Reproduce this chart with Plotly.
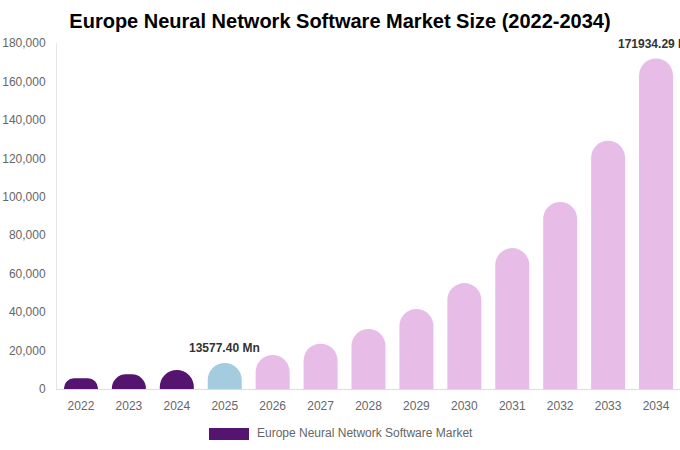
import plotly.graph_objects as go

years = ["2022", "2023", "2024", "2025", "2026", "2027", "2028", "2029", "2030", "2031", "2032", "2033", "2034"]
values = [5600, 7650, 9900, 13577.40, 17700, 23600, 31200, 41600, 55100, 73300, 97300, 129200, 171934.29]
colors = ["#55146f", "#55146f", "#55146f", "#a5cbdf"] + ["#e7bde8"] * 9
label_years = ["2025", "2034"]
label_texts = ["13577.40 Mn", "171934.29 Mn"]
y_ticks = [0, 20000, 40000, 60000, 80000, 100000, 120000, 140000, 160000, 180000]
series_name = "Europe Neural Network Software Market"
title = "Europe Neural Network Software Market Size (2022-2034)"

W, H = 680, 450
ML, MR, MT, MB = 57, 0, 43, 61

fig = go.Figure()
fig.add_trace(go.Bar(
    x=years, y=values, name=series_name,
    marker=dict(color=colors, cornerradius="50%", line=dict(width=0)),
    showlegend=False, hoverinfo="skip",
))

for yr, txt in zip(label_years, label_texts):
    i = years.index(yr)
    fig.add_annotation(x=i, y=values[i], text=f"<b>{txt}</b>", showarrow=False,
                       yanchor="bottom", yshift=6, xanchor="center",
                       font=dict(size=12, color="#333333", family="Liberation Sans, Arial, sans-serif"))

# legend drawn as swatch + label (paper coordinates)
pw, ph = W - ML - MR, H - MT - MB
def px(x):
    return (x - ML) / pw
def py(y):
    return (H - MB - y) / ph

fig.add_shape(type="rect", xref="paper", yref="paper",
              x0=px(209), x1=px(249), y0=py(440), y1=py(428),
              fillcolor=colors[0], line=dict(width=0))
fig.add_annotation(xref="paper", yref="paper", x=px(255), y=py(433), text=series_name,
                   showarrow=False, xanchor="left", yanchor="middle",
                   font=dict(size=12, color="#666666"))

fig.update_layout(
    width=W, height=H,
    margin=dict(l=ML, r=MR, t=MT, b=MB, autoexpand=False),
    paper_bgcolor="white", plot_bgcolor="white",
    font=dict(family="Liberation Sans, Arial, sans-serif", color="#666666", size=12),
    title=dict(text=f"<b>{title}</b>", x=0.5, xanchor="center", y=1 - 21 / H, yanchor="middle",
               font=dict(size=20, color="#000000")),
    bargap=0.29,
    showlegend=False,
    xaxis=dict(type="category", range=[-0.5, len(years) - 0.5], showline=True,
               linecolor="#dddddd", linewidth=1, ticks="",
               showgrid=False, tickfont=dict(size=12, color="#666666"), automargin=False,
               ticklabelstandoff=6),
    yaxis=dict(range=[0, 180000], tickvals=y_ticks, tickformat=",", showgrid=False,
               showline=True, linecolor="#e6e6e6", linewidth=1, ticks="", zeroline=False,
               tickfont=dict(size=12, color="#666666"), automargin=False,
               ticklabelstandoff=8),
)

# remove the default page margin so the figure sits at the window's top-left corner
fig.write_html("out.html", config={"displayModeBar": False, "staticPlot": True},
               post_script="document.body.style.margin='0';")
